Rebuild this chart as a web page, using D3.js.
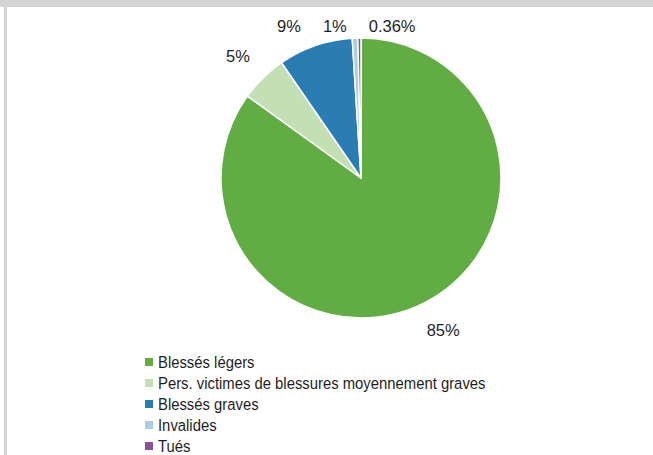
<!DOCTYPE html>
<html>
<head>
<meta charset="utf-8">
<script src="https://cdn.jsdelivr.net/npm/d3@7"></script>
<style>
  html, body { margin: 0; padding: 0; background: #fff; }
  svg { display: block; }
  .pct { font-family: "Liberation Sans", Arial, sans-serif; font-size: 16.5px; fill: #1e1e1e; }
  .leg { font-family: "Liberation Sans Narrow", "Liberation Sans", sans-serif; font-size: 16.5px; fill: #1e1e1e; }
</style>
</head>
<body>
<svg id="chart" width="653" height="455"></svg>
<script>
// Road accident victims by severity (share of total, %)
const categories = [
  "Blessés légers",
  "Pers. victimes de blessures moyennement graves",
  "Blessés graves",
  "Invalides",
  "Tués"
];
const shares = [84.95, 5.45, 8.6, 0.64, 0.36];
const colors = ["#62ad43", "#c2e0b3", "#2a7db3", "#a9cde4", "#8a4f9c"];

const W = 653, H = 455;
const cx = 361, cy = 178, R = 140;

const svg = d3.select("#chart");

// window frame
svg.append("rect").attr("x", 0).attr("y", 0).attr("width", W).attr("height", 7).attr("fill", "#d4d4d4");
svg.append("rect").attr("x", 4).attr("y", 7).attr("width", 3).attr("height", H - 7).attr("fill", "#d4d4d4");

const data = categories.map((c, i) => ({ name: c, value: shares[i], color: colors[i] }));

const pie = d3.pie().sort(null).value(d => d.value).startAngle(0).endAngle(2 * Math.PI);
const arcs = pie(data);
const arc = d3.arc().innerRadius(0).outerRadius(R);

const g = svg.append("g").attr("transform", `translate(${cx},${cy})`);
g.selectAll("path.slice")
  .data(arcs)
  .join("path")
  .attr("class", "slice")
  .attr("d", arc)
  .attr("fill", d => d.data.color)
  .attr("stroke", "#fff")
  .attr("stroke-width", 1.5)
  .attr("stroke-linejoin", "round");

// percentage labels outside each slice
const fmt = v => (v < 0.5 ? d3.format(".2f")(v) : d3.format(".0f")(v)) + "%";
const labelR = R + 24;
const fontH = 12.5;
const minY = -cy + 26; // keep labels below the frame

const labels = g.selectAll("text.pct")
  .data(arcs)
  .join("text")
  .attr("class", "pct")
  .attr("text-anchor", "middle")
  .attr("dominant-baseline", "central")
  .text(d => fmt(d.data.value));

const items = [];
labels.each(function (d) {
  const w = this.getComputedTextLength();
  const a = (d.startAngle + d.endAngle) / 2;
  const s = Math.sin(a), c = Math.cos(a);
  let x = labelR * s + (w / 2) * s;
  let y = -labelR * c - (fontH / 2) * c;
  if (y < minY) y = minY;
  items.push({ node: this, x, y, w });
});

// spread labels that share a row so they do not overlap
const pad = 22;
for (let it = 0; it < 300; it++) {
  items.sort((a, b) => a.x - b.x);
  for (let i = 0; i < items.length - 1; i++) {
    const a = items[i], b = items[i + 1];
    if (Math.abs(a.y - b.y) > fontH) continue;
    const need = (a.w + b.w) / 2 + pad;
    const gap = b.x - a.x;
    if (gap < need) {
      const shift = (need - gap) / 2;
      a.x -= shift; b.x += shift;
    }
  }
}
items.forEach(d => d3.select(d.node).attr("x", d.x).attr("y", d.y));

// legend (text set in a condensed face)
const legX = 145, legY = 362, legStep = 21, sw = 8, condense = 0.9;
const leg = svg.append("g").selectAll("g")
  .data(data)
  .join("g")
  .attr("transform", (d, i) => `translate(${legX},${legY + i * legStep})`);
leg.append("rect")
  .attr("x", 0).attr("y", -sw / 2)
  .attr("width", sw).attr("height", sw)
  .attr("fill", d => d.color);
leg.append("text")
  .attr("class", "leg")
  .attr("transform", `translate(13,0) scale(${condense},1)`)
  .attr("dominant-baseline", "central")
  .text(d => d.name);
</script>
</body>
</html>
